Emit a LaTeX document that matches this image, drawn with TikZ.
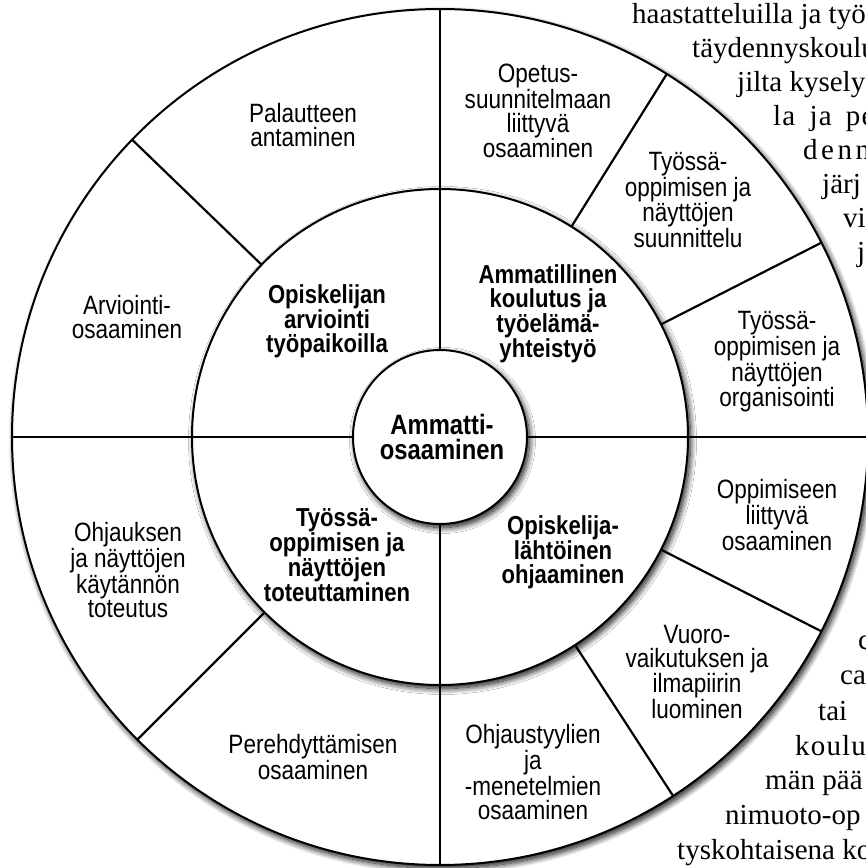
\documentclass[tikz,border=0pt]{standalone}
\usepackage{fontspec}
\setmainfont{Liberation Serif}
\setsansfont[FakeStretch=0.85]{Liberation Sans}
\newfontfamily\spacedserif[LetterSpace=4,WordSpace=1.7]{Liberation Serif}
\newfontfamily\widerserif[LetterSpace=12]{Liberation Serif}
\usetikzlibrary{shadows.blur}

\begin{document}
\begin{tikzpicture}[
    x=1pt,y=1pt,
    disc/.style={circle,draw,line width=2pt,fill=white,inner sep=0pt,outer sep=0pt,
                 blur shadow={shadow xshift=2.5pt,shadow yshift=-3.5pt,
                              shadow blur radius=6pt,shadow blur steps=12,
                              shadow opacity=95}},
    divider/.style={line width=2.2pt},
    areatext/.style={font=\sffamily\fontsize{26.5}{24}\selectfont,align=center,inner sep=0pt},
    themetext/.style={font=\sffamily\bfseries\fontsize{26}{24}\selectfont,align=center,inner sep=0pt},
    pagetext/.style={font=\rmfamily\fontsize{29}{34}\selectfont,anchor=base west,inner sep=0pt}
]
    \useasboundingbox (-440,-431) rectangle (426,437);
    \clip (-440,-431) rectangle (426,437);

    % Page text running round the figure on the right.
    \node[pagetext] (p1) at (192,413)  {haastatteluilla ja työ};
    \node[pagetext] (p2) at (252,379)  {täydennyskoulu};
    \node[pagetext] (p3) at (297,345)  {jilta kysely};
    \node[pagetext] (p4) at (333,311)  {\spacedserif la ja pe};
    \node[pagetext] (p5) at (363,277)  {\widerserif denn};
    \node[pagetext] (p6) at (382,243)  {järj};
    \node[pagetext] (p7) at (403,209)  {vi};
    \node[pagetext] (p8) at (417,175)  {j};
    \node[pagetext] (q1) at (418,-212) {c};
    \node[pagetext] (q2) at (400,-247) {ca};
    \node[pagetext] (q3) at (378,-283) {tai};
    \node[pagetext] (q4) at (355,-318) {\spacedserif koulu};
    \node[pagetext] (q5) at (325,-352) {män pää};
    \node[pagetext] (q6) at (285,-387) {nimuoto-op};
    \node[pagetext] (q7) at (237,-422) {tyskohtaisena ko};

    % Outer ring and its sector borders.
    \node[disc,minimum size=856] (outer) at (0,0) {};
    \foreach \a in {136,58,27,333,303,225}
        \draw[divider] (0,0) ++(\a:248) -- (outer.\a);
    \node[disc,minimum size=496] (middle) at (0,0) {};
    \draw[divider] (outer.180) -- (outer.0);
    \draw[divider] (outer.90) -- (outer.270);
    \node[disc,minimum size=174] (core) at (0,0) {};

    % Competence areas in the outer ring.
    \node[areatext] (palaute)    at (-137,312)  {Palautteen\\antaminen};
    \node[areatext] (arviointi)  at (-313,120)  {Arviointi-\\osaaminen};
    \node[areatext] (opetus)     at (98,326)    {Opetus-\\suunnitelmaan\\liittyvä\\osaaminen};
    \node[areatext] (suunnittelu) at (248,237)  {Työssä-\\oppimisen ja\\näyttöjen\\suunnittelu};
    \node[areatext] (organisointi) at (337,75)  {Työssä-\\oppimisen ja\\näyttöjen\\organisointi};
    \node[areatext] (oppiminen)  at (337,-78)   {Oppimiseen\\liittyvä\\osaaminen};
    \node[areatext] (vuoro)      at (257,-235)  {Vuoro-\\vaikutuksen ja\\ilmapiirin\\luominen};
    \node[areatext] (tyylit)     at (93,-335)   {Ohjaustyylien\\ja\\-menetelmien\\osaaminen};
    \node[areatext] (perehdytys) at (-127,-320) {Perehdyttämisen\\osaaminen};
    \node[areatext] (toteutus)   at (-312,-133) {Ohjauksen\\ja näyttöjen\\käytännön\\toteutus};

    % Themes in the middle ring.
    \node[themetext] (arvtyo)   at (-113,116) {Opiskelijan\\arviointi\\työpaikoilla};
    \node[themetext] (koulutus) at (108,123)  {Ammatillinen\\koulutus ja\\työelämä-\\yhteistyö};
    \node[themetext] (ohjaus)   at (123,-115) {Opiskelija-\\lähtöinen\\ohjaaminen};
    \node[themetext] (toteutt)  at (-103,-118) {Työssä-\\oppimisen ja\\näyttöjen\\toteuttaminen};

    \node[themetext,font=\sffamily\bfseries\fontsize{28}{25}\selectfont] (ammatti) at (2,0) {Ammatti-\\osaaminen};
\end{tikzpicture}
\end{document}
